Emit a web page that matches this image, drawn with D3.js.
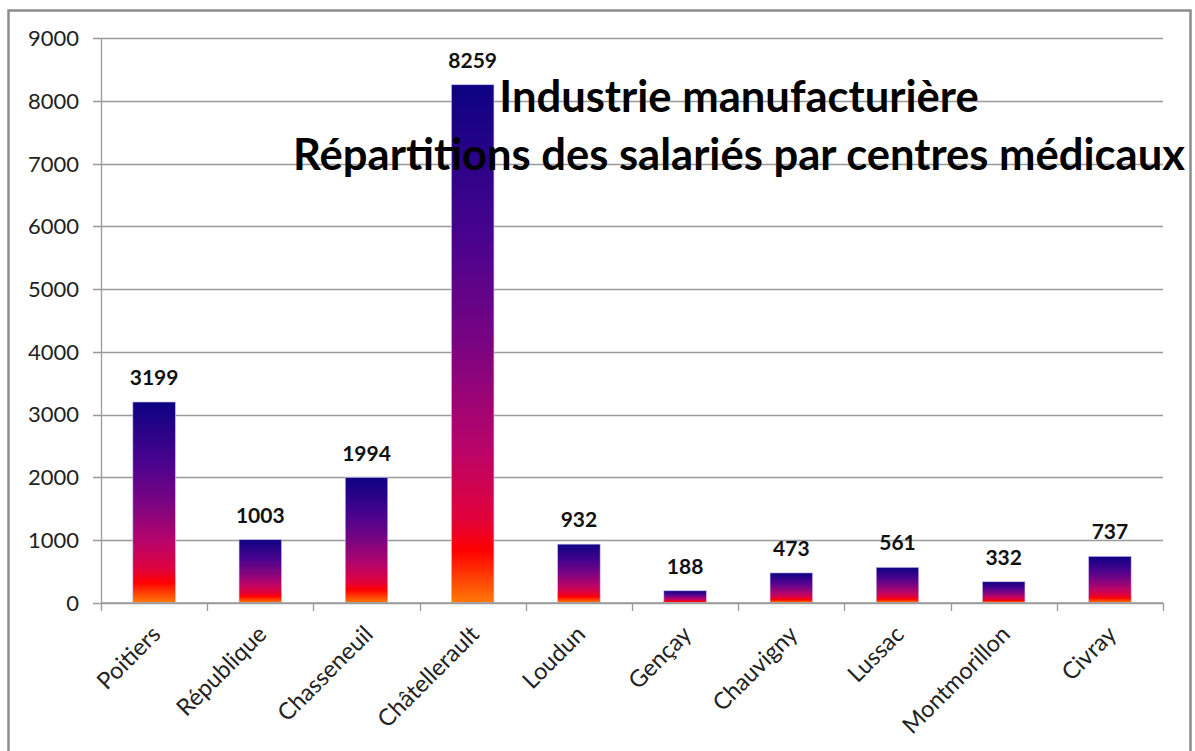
<!DOCTYPE html>
<html><head><meta charset="utf-8">
<script src="https://cdn.jsdelivr.net/npm/d3@7"></script>
<style>body{margin:0;background:#fff}svg{display:block}</style>
</head><body>
<svg id="c" width="1195" height="751"></svg>
<script>
const categories = ["Poitiers","République","Chasseneuil","Châtellerault","Loudun","Gençay","Chauvigny","Lussac","Montmorillon","Civray"];
const values = [3199,1003,1994,8259,932,188,473,561,332,737];
const yTicks = [0,1000,2000,3000,4000,5000,6000,7000,8000,9000];
const titleLines = ["Industrie manufacturière","Répartitions des salariés par centres médicaux"];

const svg = d3.select("#c");
const font = "Lato, 'Open Sans', sans-serif";
// outer frame
svg.append("rect").attr("x",8.5).attr("y",10.5).attr("width",1182).attr("height",760)
  .attr("fill","#fff").attr("stroke","#8c8c8c").attr("stroke-width",2.5);

const x = d3.scaleBand().domain(categories).range([101,1163]).paddingInner(0.6).paddingOuter(0.3);
const xb = d3.scaleBand().domain(categories).range([101,1163]);
const y = d3.scaleLinear().domain([0,9000]).range([602.6,38.3]);

const defs = svg.append("defs");
const g = defs.append("linearGradient").attr("id","grad").attr("x1",0).attr("y1",0).attr("x2",0).attr("y2",1);
[[0,"#0c0282"],[0.3,"#4a038e"],[0.5,"#7a0482"],[0.7,"#b8046a"],[0.84,"#e2023a"],[0.9,"#ff0000"],[1,"#ff7a08"]]
  .forEach(([o,c])=>g.append("stop").attr("offset",o).attr("stop-color",c));

// gridlines
svg.append("g").selectAll("line").data(yTicks).join("line")
  .attr("x1",93).attr("x2",1163).attr("y1",d=>Math.round(y(d))+0.5).attr("y2",d=>Math.round(y(d))+0.5)
  .attr("stroke","#9a9a9a").attr("stroke-width",1.3);
// y axis line
svg.append("line").attr("x1",101.5).attr("x2",101.5).attr("y1",y(9000)).attr("y2",y(0)).attr("stroke","#9a9a9a").attr("stroke-width",1.3);
// y labels
svg.append("g").selectAll("text").data(yTicks).join("text")
  .attr("x",79).attr("y",d=>y(d)).attr("dy","0.36em").attr("text-anchor","end")
  .attr("font-family",font).attr("font-size",22).attr("fill","#222").text(d=>d);

// bars
svg.append("g").selectAll("rect").data(values).join("rect")
  .attr("x",(d,i)=>x(categories[i])).attr("width",x.bandwidth())
  .attr("y",d=>y(d)).attr("height",d=>y(0)-y(d))
  .attr("fill","url(#grad)").attr("stroke","#c8b8f0").attr("stroke-width",0.6);

// x axis
svg.append("line").attr("x1",101).attr("x2",1163).attr("y1",603).attr("y2",603).attr("stroke","#9a9a9a").attr("stroke-width",1.3);
const bounds = categories.map(c=>xb(c)).concat([1163]);
svg.append("g").selectAll("line").data(bounds).join("line")
  .attr("x1",d=>Math.round(d)+0.5).attr("x2",d=>Math.round(d)+0.5).attr("y1",603).attr("y2",611)
  .attr("stroke","#9a9a9a").attr("stroke-width",1.3);

// x labels
svg.append("g").selectAll("text").data(categories).join("text")
  .attr("transform",d=>`translate(${xb(d)+xb.bandwidth()/2+2},${630}) rotate(-45)`)
  .attr("text-anchor","end").attr("dy","0.35em")
  .attr("font-family",font).attr("font-size",23.5).attr("fill","#222").text(d=>d);

// value labels
svg.append("g").selectAll("text").data(values).join("text")
  .attr("x",(d,i)=>xb(categories[i])+xb.bandwidth()/2).attr("y",d=>y(d)-17)
  .attr("text-anchor","middle").attr("font-family",font).attr("font-weight","bold")
  .attr("font-size",21).attr("fill","#111").text(d=>d);

// title
const t = svg.append("g").selectAll("text").data(titleLines).join("text")
  .attr("x",739).attr("y",(d,i)=>i===0?112:170).attr("text-anchor","middle")
  .attr("font-family",font).attr("font-weight","bold").attr("font-size",38).attr("fill","#000").text(d=>d);
const n = t.nodes()[1];
const w = n.getComputedTextLength();
t.attr("font-size",38*892/w);
</script>
</body></html>
